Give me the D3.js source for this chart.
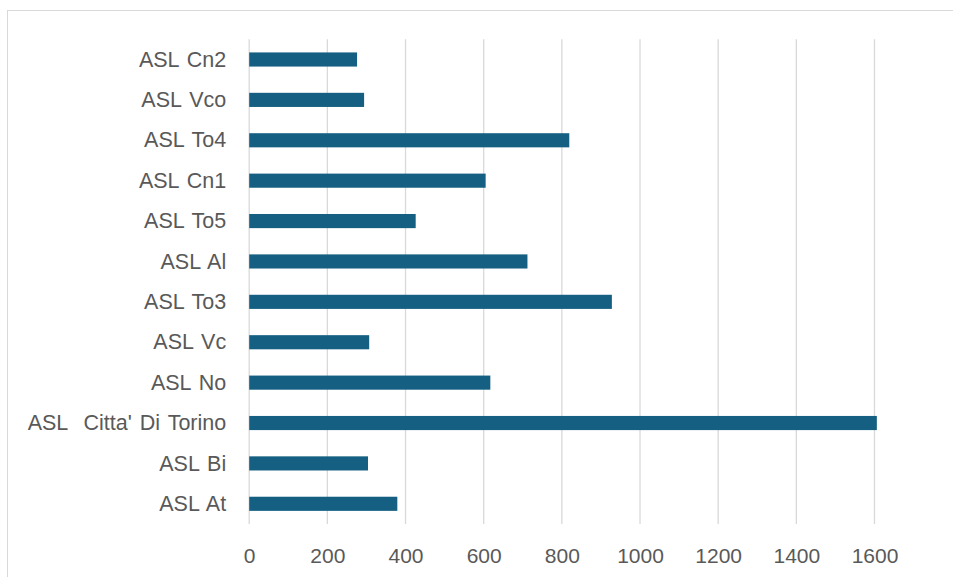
<!DOCTYPE html>
<html>
<head>
<meta charset="utf-8">
<script src="https://cdn.jsdelivr.net/npm/d3@7"></script>
<style>
  html, body { margin: 0; padding: 0; background: #fff; }
  svg { display: block; }
  text { font-family: "Liberation Sans", Arial, sans-serif; fill: #595959; }
</style>
</head>
<body>
<svg id="chart" width="953" height="577"></svg>
<script>
const categories = ["ASL Cn2", "ASL Vco", "ASL To4", "ASL Cn1", "ASL To5", "ASL Al", "ASL To3", "ASL Vc", "ASL No", "ASL  Citta' Di Torino", "ASL Bi", "ASL At"];
const values = [276, 294, 819, 605, 426, 712, 928, 307, 617, 1606, 304, 379];
const xTicks = [0, 200, 400, 600, 800, 1000, 1200, 1400, 1600];

const svg = d3.select("#chart");
const W = 953, H = 577;
const plot = { left: 249.2, right: 874.5, top: 39.3, bottom: 524 };

// outer chart frame (cropped at right & bottom)
svg.append("rect")
  .attr("x", 7.5).attr("y", 10.5)
  .attr("width", W + 10).attr("height", H + 10)
  .attr("fill", "#fff").attr("stroke", "#d9d9d9").attr("stroke-width", 1);

const x = d3.scaleLinear().domain([0, 1600]).range([plot.left, plot.right]);
const y = d3.scaleBand().domain(categories).range([plot.top, plot.bottom]).paddingInner(0.65).paddingOuter(0.325);

// gridlines
svg.append("g").selectAll("line").data(xTicks).join("line")
  .attr("x1", d => x(d)).attr("x2", d => x(d))
  .attr("y1", plot.top).attr("y2", plot.bottom)
  .attr("stroke", "#d9d9d9").attr("stroke-width", 1.3);

// bars
svg.append("g").selectAll("rect").data(values).join("rect")
  .attr("x", x(0))
  .attr("y", (d, i) => y(categories[i]))
  .attr("width", d => x(d) - x(0))
  .attr("height", y.bandwidth())
  .attr("fill", "#156082");

// x axis labels
const xAxis = d3.axisBottom(x).tickValues(xTicks).tickSize(0).tickPadding(0).tickFormat(d3.format("d"));
const gx = svg.append("g").attr("transform", `translate(0, ${plot.bottom})`).call(xAxis);
gx.select(".domain").remove();
gx.selectAll("text")
  .attr("y", 38.5).attr("dy", null)
  .style("font-size", "21px").style("fill", "#595959")
  .style("font-family", "'Liberation Sans', Arial, sans-serif");

// y axis labels
const yAxis = d3.axisLeft(y).tickSize(0).tickPadding(0);
const gy = svg.append("g").attr("transform", `translate(${plot.left - 23}, 0)`).call(yAxis);
gy.select(".domain").remove();
gy.selectAll("text")
  .attr("x", 0).attr("dy", "0.33em")
  .style("font-size", "21.5px").style("fill", "#595959")
  .style("word-spacing", "2px")
  .style("font-family", "'Liberation Sans', Arial, sans-serif")
  .style("white-space", "pre");
</script>
</body>
</html>
